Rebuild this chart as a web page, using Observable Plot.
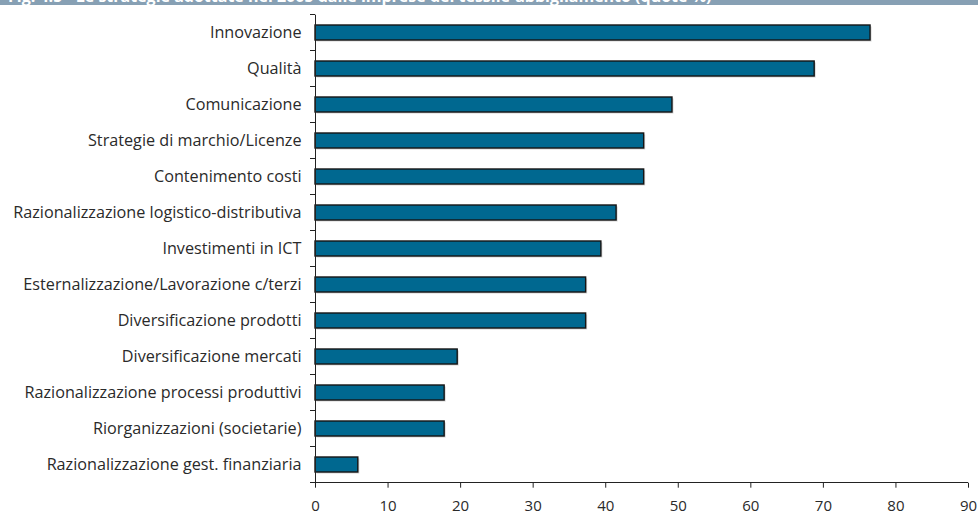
<!DOCTYPE html>
<html>
<head>
<meta charset="utf-8">
<script src="https://cdn.jsdelivr.net/npm/d3@7"></script>
<script src="https://cdn.jsdelivr.net/npm/@observablehq/plot@0.6"></script>
<style>
  html, body { margin: 0; padding: 0; background: #fff; }
  #title { height: 5px; overflow: hidden; background: #87a0b4; position: relative; }
  #title span { position: absolute; left: 8px; top: -14px; font: bold 16px "Open Sans", sans-serif; color: #fff; white-space: nowrap; line-height: 20px; }
</style>
</head>
<body>
<div id="title"><span>Fig. 4.5 - Le strategie adottate nel 2005 dalle imprese del tessile-abbigliamento (quote %)</span></div>
<div id="chart"></div>
<script>
const categories = [
  "Innovazione",
  "Qualità",
  "Comunicazione",
  "Strategie di marchio/Licenze",
  "Contenimento costi",
  "Razionalizzazione logistico-distributiva",
  "Investimenti in ICT",
  "Esternalizzazione/Lavorazione c/terzi",
  "Diversificazione prodotti",
  "Diversificazione mercati",
  "Razionalizzazione processi produttivi",
  "Riorganizzazioni (societarie)",
  "Razionalizzazione gest. finanziaria"
];
const values = [76.5, 68.8, 49.2, 45.3, 45.3, 41.5, 39.4, 37.3, 37.3, 19.6, 17.8, 17.8, 5.9];
const xTicks = [0, 10, 20, 30, 40, 50, 60, 70, 80, 90];

const data = categories.map((c, i) => ({category: c, value: values[i]}));

const chart = Plot.plot({
  width: 978,
  height: 510,
  marginTop: 9.7,
  marginBottom: 32.3,
  marginLeft: 315,
  marginRight: 10,
  style: {fontFamily: "'Open Sans', sans-serif", fontSize: "15px", color: "#2a2a2a", background: "#fff", overflow: "visible"},
  x: {domain: [0, 90]},
  y: {domain: categories, paddingInner: 0.583, paddingOuter: 0.2915},
  marks: [
    Plot.barX(data, {x: "value", y: "category", fill: "#d4d4d4", dx: 1.5, dy: 1.5}),
    Plot.barX(data, {x: "value", y: "category", fill: "#006890", stroke: "#151515", strokeWidth: 1.4}),
    Plot.ruleX([0], {stroke: "#222", strokeWidth: 1}),
    Plot.axisY({tickSize: 0, tickPadding: 14, label: null, fontSize: 16.2}),
    Plot.axisX({ticks: xTicks, tickSize: 5, tickPadding: 12, label: null, fontSize: 15, stroke: "#222"})
  ]
});

// category boundary ticks and bottom axis line, positioned with the plot's own scales
const ys = chart.scale("y");
const xs = chart.scale("x");
const step = ys.step;
const x0 = xs.apply(0);
const xEnd = xs.apply(90);
const svg = d3.select(chart.tagName.toLowerCase() === "svg" ? chart : chart.querySelector("svg"));
const g = svg.append("g").attr("stroke", "#222").attr("stroke-width", 1);
const bounds = categories.map(c => ys.apply(c) + ys.bandwidth / 2 - step / 2);
bounds.push(ys.apply(categories[categories.length - 1]) + ys.bandwidth / 2 + step / 2);
bounds.forEach(b => {
  g.append("line").attr("x1", x0 - 5).attr("x2", x0).attr("y1", b).attr("y2", b);
});
const yBottom = bounds[bounds.length - 1];
g.append("line").attr("x1", x0).attr("x2", xEnd).attr("y1", yBottom).attr("y2", yBottom);

document.getElementById("chart").appendChild(chart);
</script>
</body>
</html>
